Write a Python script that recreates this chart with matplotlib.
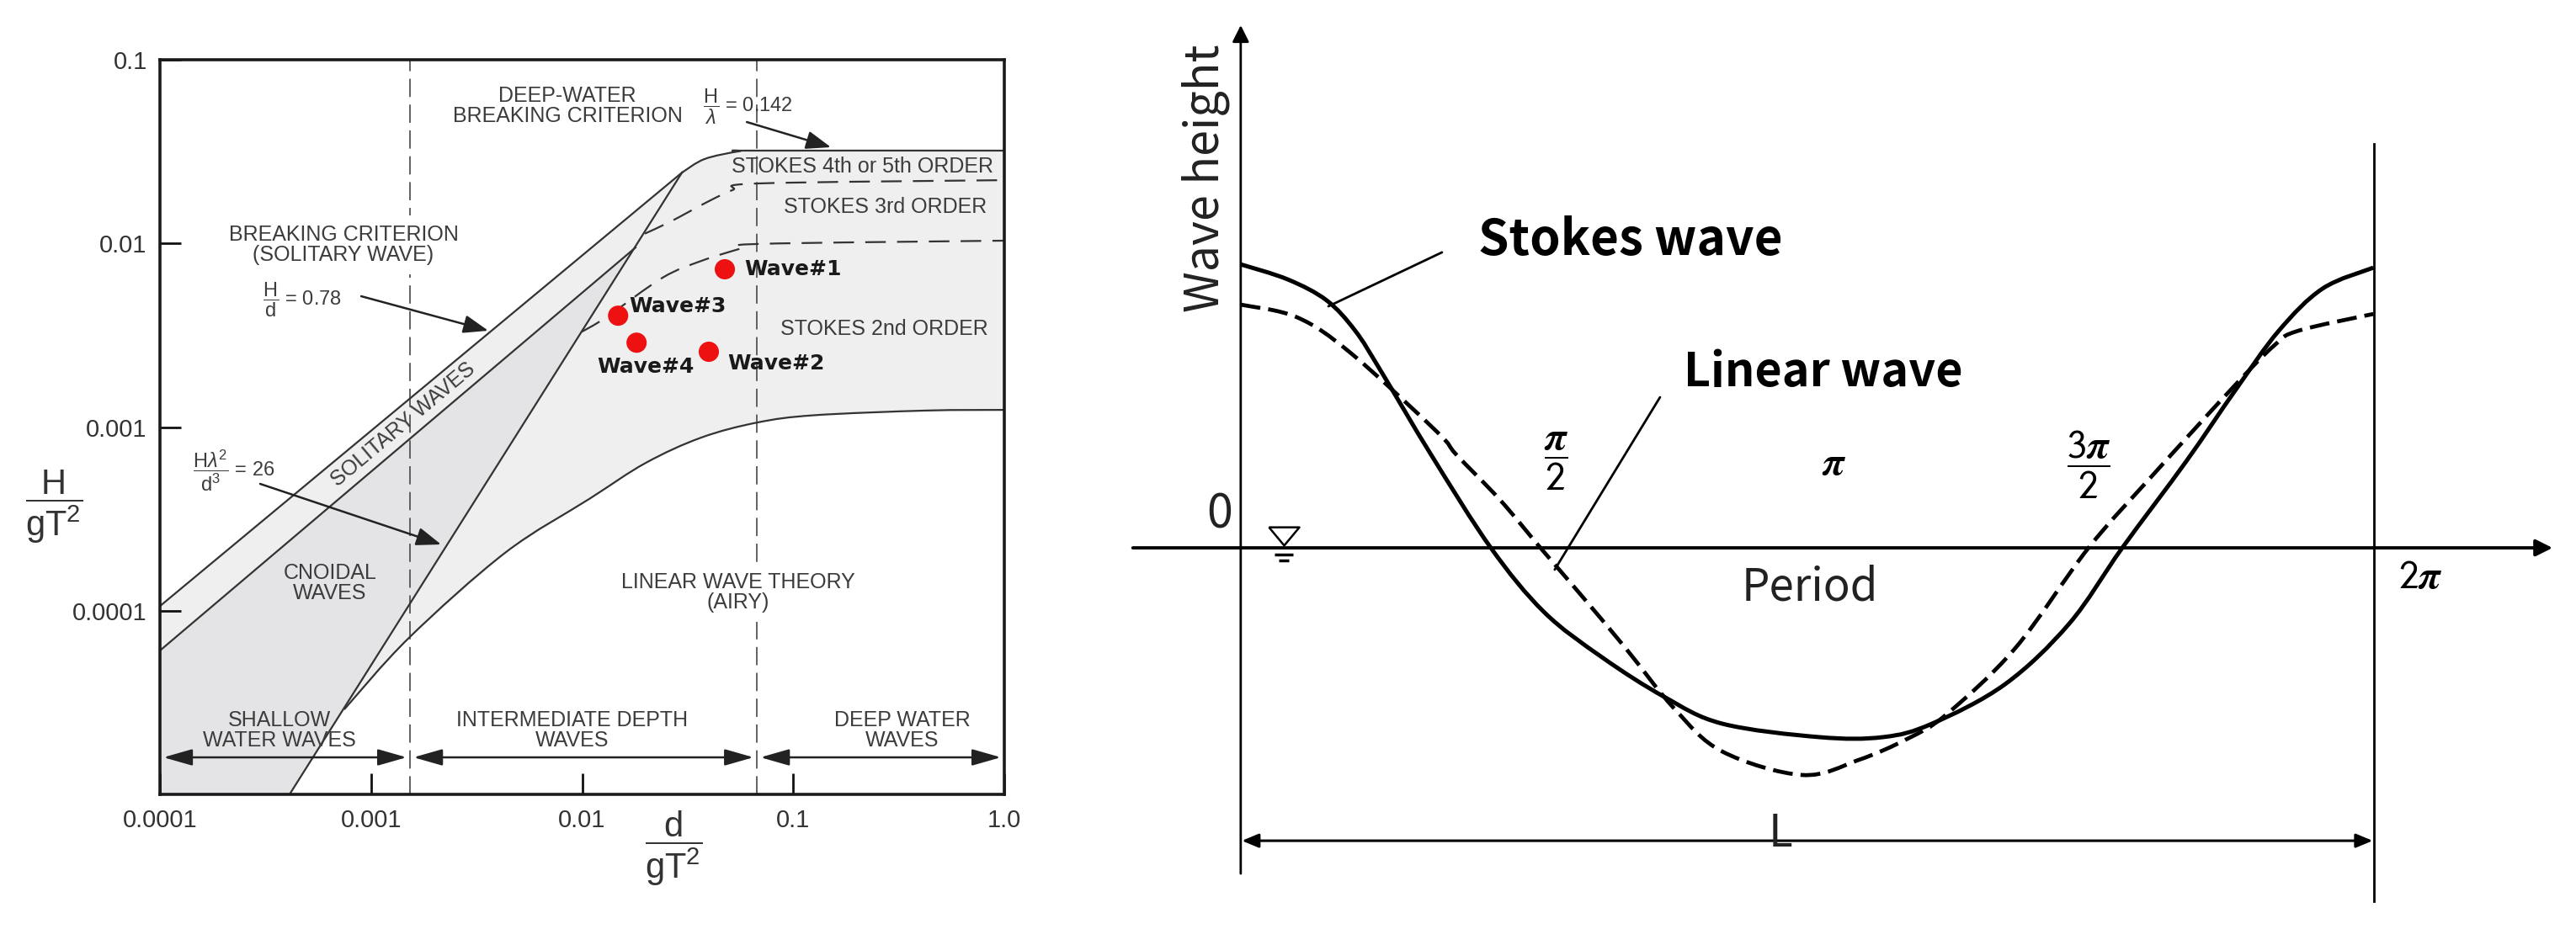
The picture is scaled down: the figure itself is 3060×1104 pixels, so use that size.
import numpy as np
import matplotlib.pyplot as plt
from matplotlib.ticker import NullLocator
from matplotlib.path import Path
from matplotlib.patches import PathPatch

plt.rcParams['font.family'] = ['Liberation Sans', 'DejaVu Sans']
plt.rcParams['mathtext.fontset'] = 'custom'
plt.rcParams['mathtext.rm'] = 'Liberation Sans'
plt.rcParams['mathtext.it'] = 'Liberation Sans:italic'
plt.rcParams['mathtext.bf'] = 'Liberation Sans:bold'
plt.rcParams['mathtext.sf'] = 'Liberation Sans'

# ---- left panel: ranges of validity of wave theories ----
# breaking limit H/d = 0.78 (straight part) bending into H/L = 0.142
break_x = [1e-4, 0.0297, 0.038, 0.055, 0.066, 1.0]
break_y = [1.06e-4, 0.0243, 0.0288, 0.0317, 0.032, 0.032]
# lower edge of the solitary wave band
solit_x = [1e-4, 0.0179]
solit_y = [6.07e-5, 0.0095]
# Ursell limit H L^2 / d^3 = 26
ursell_x = [4.11e-4, 0.0297]
ursell_y = [1e-5, 0.0243]
# linear / Stokes 2nd order boundary
lin_x = [7.46e-4, 1.51e-3, 4.32e-3, 0.0108, 0.0200, 0.0367, 0.0679, 0.126, 0.426, 1.0]
lin_y = [2.9e-5, 7.11e-5, 2.07e-4, 4.06e-4, 6.38e-4, 8.77e-4, 1.06e-3, 1.16e-3, 1.23e-3, 1.24e-3]
# Stokes 2nd / 3rd order boundary
s23_x = [0.00995, 0.0130, 0.0240, 0.0367, 0.055, 0.0679, 1.0]
s23_y = [0.00330, 0.00396, 0.0065, 0.00803, 0.0093, 0.00993, 0.01035]
# Stokes 3rd / 4th order boundary
s34_x = [0.0198, 0.0264, 0.0391, 0.0515, 0.0679, 1.0]
s34_y = [0.0113, 0.0132, 0.0168, 0.0195, 0.0212, 0.0221]
shallow_limit = 0.00153
deep_limit = 0.0673

wave_names = ['Wave#1', 'Wave#2', 'Wave#3', 'Wave#4']
wave_d = [0.0474, 0.0398, 0.0148, 0.0181]
wave_h = [0.00723, 0.00257, 0.00404, 0.00288]

x_ticks = [1e-4, 1e-3, 1e-2, 1e-1, 1.0]
x_ticklabels = ['0.0001', '0.001', '0.01', '0.1', '1.0']
y_ticks = [1e-4, 1e-3, 1e-2, 1e-1]
y_ticklabels = ['0.0001', '0.001', '0.01', '0.1']

# ---- right panel: Stokes wave vs linear wave over one period ----
phase_stokes = [0.0, 0.261, 0.476, 0.635, 0.775, 1.055, 1.387, 1.681, 2.003,
                2.348, 2.670, 3.207, 3.562, 3.833, 4.239, 4.594, 4.888, 5.243, 5.514,
                5.756, 5.999, 6.28]
eta_stokes = [1.182, 1.119, 1.032, 0.905, 0.740, 0.389, 0.0, -0.267, -0.456,
              -0.621, -0.733, -0.789, -0.789, -0.733, -0.568, -0.316, 0.0, 0.361, 0.656,
              0.905, 1.081, 1.168]
phase_linear = [0.0, 0.313, 0.612, 1.088, 1.195, 1.438, 1.662, 1.867, 2.134, 2.404,
                2.670, 3.114, 3.427, 3.697, 3.912, 4.295, 4.701, 5.051, 5.486, 5.728,
                5.864, 6.28]
eta_linear = [1.014, 0.961, 0.811, 0.484, 0.389, 0.200, 0.0, -0.179, -0.418, -0.670,
              -0.849, -0.947, -0.884, -0.796, -0.695, -0.418, 0.0, 0.298, 0.656, 0.842,
              0.905, 0.975]


def smooth_path(xs, ys, log=False):
    # bezier curve through the read points (Catmull-Rom tangents)
    p = np.column_stack([xs, ys]).astype(float)
    if log:
        p = np.log10(p)
    n = len(p)
    verts = [p[0]]
    codes = [Path.MOVETO]
    for i in range(n - 1):
        p0 = p[i - 1] if i > 0 else p[i]
        p3 = p[i + 2] if i + 2 < n else p[i + 1]
        verts += [p[i] + (p[i + 1] - p0) / 6, p[i + 1] - (p3 - p[i]) / 6, p[i + 1]]
        codes += [Path.CURVE4] * 3
    verts = np.array(verts)
    if log:
        verts = 10 ** verts
    return Path(verts, codes)


fig = plt.figure(figsize=(30.6, 11.04), dpi=100)

# ================= left panel =================
ax = fig.add_axes([0.0621, 0.1449, 0.3278, 0.7908])
ax.set_xscale('log')
ax.set_yscale('log')
ax.set_xlim(1e-4, 1)
ax.set_ylim(1e-5, 0.1)

# shaded regions
ax.fill(break_x + lin_x[::-1] + [ursell_x[0], 1e-4],
        break_y + lin_y[::-1] + [ursell_y[0], 1e-5],
        color='#efefef', lw=0, zorder=0)
ax.fill(solit_x + [ursell_x[0], 1e-4], solit_y + [ursell_y[0], 1e-5],
        color='#e4e4e7', lw=0, zorder=0.5)

line_kw = dict(color='#333333', lw=1.6, zorder=2)
ax.plot(break_x[:2], break_y[:2], **line_kw)
ax.add_patch(PathPatch(smooth_path(break_x[1:], break_y[1:], log=True), fill=False,
                       edgecolor='#333333', lw=1.6, zorder=2))
ax.plot(solit_x, solit_y, **line_kw)
ax.plot(ursell_x, ursell_y, **line_kw)
ax.add_patch(PathPatch(smooth_path(lin_x, lin_y, log=True), fill=False,
                       edgecolor='#333333', lw=1.6, zorder=2))
for xs, ys in ((s23_x, s23_y), (s34_x, s34_y)):
    ax.add_patch(PathPatch(smooth_path(xs, ys, log=True), fill=False, edgecolor='#333333',
                           lw=1.6, ls=(0, (11, 6)), zorder=2))
for v in (shallow_limit, deep_limit):
    ax.axvline(v, color='#555555', lw=1.3, dashes=(12, 5), zorder=1)

ax.scatter(wave_d, wave_h, s=300, color='#ee1111', edgecolors='none', zorder=6)
offsets = [(17, 0, 'left'), (16, -10, 'left'), (9, 8, 'left'), (8, -21, 'center')]
for name, d, h, (dx, dy, ha) in zip(wave_names, wave_d, wave_h, offsets):
    ax.annotate(name, (d, h), xytext=(dx, dy), textcoords='offset points',
                ha=ha, va='center', fontsize=18, fontweight='bold', family='DejaVu Sans',
                color='#1a1a1a', zorder=7)

ax.set_xticks(x_ticks)
ax.set_xticklabels(x_ticklabels)
ax.set_yticks(y_ticks)
ax.set_yticklabels(y_ticklabels)
ax.xaxis.set_minor_locator(NullLocator())
ax.yaxis.set_minor_locator(NullLocator())
ax.tick_params(direction='in', length=18, width=2, color='#111111',
               labelsize=21, labelcolor='#333333')
ax.tick_params(axis='x', pad=12)
ax.tick_params(axis='y', pad=11)
for s in ax.spines.values():
    s.set_linewidth(2.6)
    s.set_color('#1a1a1a')
    s.set_zorder(8)

lab = dict(fontsize=18, color='#3c3c3c', ha='center', va='center',
           transform=ax.transAxes, linespacing=1.0, zorder=4)
ax.text(0.4826, 0.937, 'DEEP-WATER\nBREAKING CRITERION', **lab)
ax.text(0.2173, 0.748, 'BREAKING CRITERION\n(SOLITARY WAVE)',
        bbox=dict(facecolor='white', edgecolor='none', pad=8), **lab)
ax.text(0.288, 0.503, 'SOLITARY WAVES', rotation=40, rotation_mode='anchor', **lab)
ax.text(0.2014, 0.2875, 'CNOIDAL\nWAVES', **lab)
ax.text(0.685, 0.275, 'LINEAR WAVE THEORY\n(AIRY)',
        bbox=dict(facecolor='white', edgecolor='none', pad=8), **lab)
ax.text(0.8315, 0.8545, 'STOKES 4th or 5th ORDER', **lab)
ax.text(0.8594, 0.800, 'STOKES 3rd ORDER', **lab)
ax.text(0.8574, 0.6334, 'STOKES 2nd ORDER', **lab)
ax.text(0.1416, 0.087, 'SHALLOW\nWATER WAVES', **lab)
ax.text(0.4885, 0.087, 'INTERMEDIATE DEPTH\nWAVES', **lab)
ax.text(0.8794, 0.087, 'DEEP WATER\nWAVES', **lab)

eq = dict(fontsize=17, color='#3c3c3c', ha='left', va='center', transform=ax.transAxes)
ax.text(0.643, 0.936, r'$\dfrac{\mathrm{H}}{\lambda}$ = 0.142', **eq)
ax.text(0.1216, 0.6735, r'$\dfrac{\mathrm{H}}{\mathrm{d}}$ = 0.78', **eq)
ax.text(0.039, 0.441, r'$\dfrac{\mathrm{H}\lambda^2}{\mathrm{d}^3}$ = 26', **eq)

arr = dict(arrowstyle='-|>,head_length=0.6,head_width=0.22', mutation_scale=30,
           color='#222222', lw=1.8, shrinkA=0, shrinkB=0)
ax.annotate('', xy=(0.7946, 0.8809), xytext=(0.695, 0.9152), xycoords='axes fraction', arrowprops=arr)
ax.annotate('', xy=(0.3888, 0.6312), xytext=(0.2383, 0.6781), xycoords='axes fraction', arrowprops=arr)
ax.annotate('', xy=(0.333, 0.3402), xytext=(0.1186, 0.4227), xycoords='axes fraction', arrowprops=arr)

# depth ranges along the bottom
darr = dict(arrowstyle='<|-|>,head_length=0.7,head_width=0.2', mutation_scale=30,
            color='#222222', lw=1.8, shrinkA=3, shrinkB=3)
bounds = [1e-4, shallow_limit, deep_limit, 1.0]
for a, b in zip(bounds[:-1], bounds[1:]):
    ax.annotate('', xy=(b, 0.0504), xytext=(a, 0.0504),
                xycoords=('data', 'axes fraction'), arrowprops=darr)

fig.text(0.021, 0.4547, r'$\dfrac{\mathrm{H}}{\mathrm{gT}^2}$', fontsize=30,
         ha='center', va='center', color='#333333')
fig.text(0.2614, 0.087, r'$\dfrac{\mathrm{d}}{\mathrm{gT}^2}$', fontsize=30,
         ha='center', va='center', color='#333333')

# ================= right panel =================
cjk = ['Noto Sans CJK SC', 'DejaVu Sans']
ax2 = fig.add_axes([0.4346, 0.0, 0.5654, 1.0])
ax2.set_xlim(-0.672, 7.404)
ax2.set_ylim(-1.589, 2.284)
ax2.axis('off')

ax2.add_patch(PathPatch(smooth_path(phase_stokes, eta_stokes), fill=False,
                        edgecolor='black', lw=3.6, zorder=3))
ax2.add_patch(PathPatch(smooth_path(phase_linear, eta_linear), fill=False,
                        edgecolor='black', lw=3.4, ls=(0, (5, 2)), zorder=3))

two_pi = 6.2832
ax2.annotate('', xy=(0, 2.179), xytext=(0, -1.358),
             arrowprops=dict(arrowstyle='-|>,head_length=0.6,head_width=0.3', mutation_scale=20,
                             lw=2, color='black', shrinkA=0, shrinkB=0))
ax2.annotate('', xy=(7.274, 0), xytext=(-0.598, 0),
             arrowprops=dict(arrowstyle='-|>,head_length=0.6,head_width=0.3', mutation_scale=20,
                             lw=2.8, color='black', shrinkA=0, shrinkB=0))
ax2.plot([two_pi, two_pi], [-1.474, 1.684], color='black', lw=2)
ax2.annotate('', xy=(two_pi, -1.221), xytext=(0, -1.221),
             arrowprops=dict(arrowstyle='<|-|>,head_length=0.6,head_width=0.25', mutation_scale=20,
                             lw=2.2, color='black', shrinkA=1, shrinkB=1))

txt = dict(family=cjk, color='#222222', ha='center', va='center', fontweight='normal')
ax2.text(-0.196, 1.540, 'Wave height', rotation=90, fontsize=40, **txt)
ax2.text(-0.117, 0.137, '0', fontsize=40, **txt)
ax2.text(3.156, -0.165, 'Period', fontsize=38, **txt)
ax2.text(2.993, -1.19, 'L', fontsize=38, **txt)

ax2.text(1.317, 1.281, 'Stokes wave', fontsize=42, family=cjk, fontweight='bold',
         ha='left', va='center', color='black')
ax2.text(2.456, 0.730, 'Linear wave', fontsize=40, family=cjk, fontweight='bold',
         ha='left', va='center', color='black')
lead = dict(arrowstyle='-', lw=2, color='black', shrinkA=0, shrinkB=0)
ax2.annotate('', xy=(0.486, 1.007), xytext=(1.116, 1.232), arrowprops=lead)
ax2.annotate('', xy=(1.741, -0.091), xytext=(2.325, 0.628), arrowprops=lead)

pi_kw = dict(fontsize=34, math_fontfamily='stix', ha='center', va='center', color='black')
ax2.text(1.751, 0.361, r'$\dfrac{\boldsymbol{\pi}}{\mathsf{2}}$', **pi_kw)
ax2.text(3.291, 0.347, r'$\boldsymbol{\pi}$', **pi_kw)
ax2.text(4.701, 0.347, r'$\dfrac{\mathsf{3}\boldsymbol{\pi}}{\mathsf{2}}$', **pi_kw)
ax2.text(6.541, -0.126, r'$\mathsf{2}\boldsymbol{\pi}$', **pi_kw)

# still water level symbol
tri = [(-1, 0.6), (1, 0.6), (0, -0.6), (-1, 0.6)]
ax2.plot(0.238, 0.049, marker=tri, ms=26, mfc='none', mec='black', mew=1.8)
ax2.plot(0.238, -0.028, marker='_', ms=16, mew=2.5, color='black')
ax2.plot(0.238, -0.053, marker='_', ms=9, mew=2.5, color='black')

fig.savefig('out.png', dpi=100)
